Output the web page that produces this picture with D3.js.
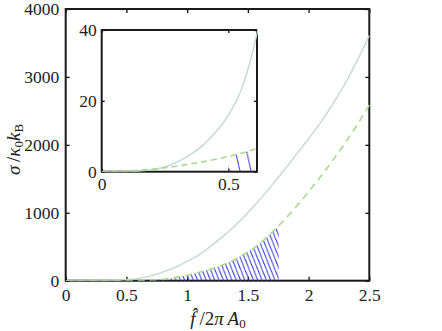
<!DOCTYPE html>
<html>
<head>
<meta charset="utf-8">
<script src="https://cdn.jsdelivr.net/npm/d3@7"></script>
<style>
  body { margin: 0; background: #fff; }
  text { font-family: "Liberation Serif", "DejaVu Serif", serif; }
</style>
</head>
<body>
<div id="chart"></div>
<script>
// values
const fVals = [0, 0.05, 0.1, 0.15, 0.2, 0.25, 0.3, 0.35, 0.4, 0.45, 0.5, 0.55, 0.6, 0.65, 0.7,
  0.8, 0.9, 1.0, 1.1, 1.2, 1.3, 1.4, 1.5, 1.6, 1.7, 1.8, 1.9, 2.0, 2.1, 2.2, 2.3, 2.4, 2.5];
const sigmaSolid = [0, 0, 0.05, 0.2, 0.6, 1.4, 2.8, 4.8, 7.5, 11.2, 16, 23, 35, 52, 72,
  125, 195, 285, 385, 515, 660, 820, 1000, 1200, 1410, 1630, 1860, 2090, 2330, 2600, 2900, 3240, 3610];
const sigmaDashed = [0, 0.1, 0.2, 0.4, 0.7, 1.1, 1.6, 2.2, 2.8, 3.5, 4.3, 5.2, 6.3, 7.8, 10,
  20, 45, 80, 125, 175, 240, 320, 425, 550, 715, 895, 1095, 1310, 1535, 1775, 2025, 2295, 2585];
const hatchFrom = 0.5, hatchTo = 1.755;

const mainXTicks = [0, 0.5, 1, 1.5, 2, 2.5];
const mainYTicks = [0, 1000, 2000, 3000, 4000];
const insetXTicks = [0, 0.5];
const insetYTicks = [0, 20, 40];

const W = 442, H = 331;
const solidColor = "#c4d9d3", dashColor = "#a9d990", hatchColor = "#3c3cd6";

const svg = d3.select("#chart").append("svg")
  .attr("width", W).attr("height", H);
const defs = svg.append("defs");

// hatch patterns ("\" lines), one per axes
function hatch(id, w, h) {
  const p = defs.append("pattern").attr("id", id)
    .attr("patternUnits", "userSpaceOnUse")
    .attr("width", w).attr("height", h);
  [-1, 0, 1].forEach(k => {
    p.append("line")
      .attr("x1", k * w).attr("y1", 0)
      .attr("x2", k * w + w).attr("y2", h)
      .attr("stroke", hatchColor).attr("stroke-width", 1);
  });
}
hatch("hatchMain", 4.3, 10.8);
hatch("hatchInset", 11.2, 50);

function panel(id, box, xDom, yDom, xTicks, yTicks, o) {
  const x = d3.scaleLinear().domain(xDom).range([box.x0, box.x1]);
  const y = d3.scaleLinear().domain(yDom).range([box.y1, box.y0]);
  const g = svg.append("g");

  if (o.bg) {
    g.append("rect").attr("x", box.x0).attr("y", box.y0)
      .attr("width", box.x1 - box.x0).attr("height", box.y1 - box.y0)
      .attr("fill", "#fff");
  }

  const fmt = d => String(d);
  const axes = [
    [d3.axisBottom(x).tickValues(xTicks).tickFormat(fmt).tickPadding(o.xPad), `translate(0,${box.y1})`],
    [d3.axisTop(x).tickValues(xTicks).tickFormat(""), `translate(0,${box.y0})`],
    [d3.axisLeft(y).tickValues(yTicks).tickFormat(fmt).tickPadding(o.yPad), `translate(${box.x0},0)`],
    [d3.axisRight(y).tickValues(yTicks).tickFormat(""), `translate(${box.x1},0)`]
  ];
  axes.forEach(([ax, tr]) => {
    const a = g.append("g").attr("transform", tr)
      .call(ax.tickSizeInner(-o.tick).tickSizeOuter(0));
    a.select(".domain").remove();
    a.selectAll(".tick line").attr("stroke", "#111").attr("stroke-width", 1.3);
    a.selectAll("text").attr("font-size", 17.5).attr("fill", "#222")
      .attr("font-family", "Liberation Serif");
  });

  g.append("rect").attr("x", box.x0).attr("y", box.y0)
    .attr("width", box.x1 - box.x0).attr("height", box.y1 - box.y0)
    .attr("fill", "none").attr("stroke", "#1a1a1a").attr("stroke-width", 2);

  defs.append("clipPath").attr("id", id + "Clip").append("rect")
    .attr("x", box.x0).attr("y", box.y0 - 1)
    .attr("width", box.x1 - box.x0 + 1).attr("height", box.y1 - box.y0 + 1);
  defs.append("clipPath").attr("id", id + "Hatch").append("rect")
    .attr("x", x(hatchFrom)).attr("y", box.y0)
    .attr("width", Math.min(x(hatchTo), box.x1) - x(hatchFrom))
    .attr("height", box.y1 - box.y0);

  const pts = fVals.map((f, i) => ({ f, s: sigmaSolid[i], d: sigmaDashed[i] }));
  const plot = g.append("g").attr("clip-path", `url(#${id}Clip)`);

  plot.append("path").datum(pts)
    .attr("clip-path", `url(#${id}Hatch)`)
    .attr("fill", `url(#${o.hatch})`)
    .attr("d", d3.area().curve(d3.curveMonotoneX)
      .x(p => x(p.f)).y0(y(0)).y1(p => y(p.d)));

  plot.append("path").datum(pts)
    .attr("fill", "none").attr("stroke", solidColor).attr("stroke-width", 1.4)
    .attr("d", d3.line().curve(d3.curveMonotoneX).x(p => x(p.f)).y(p => y(p.s)));

  plot.append("path").datum(pts)
    .attr("fill", "none").attr("stroke", dashColor).attr("stroke-width", 1.6)
    .attr("stroke-dasharray", o.dash)
    .attr("d", d3.line().curve(d3.curveMonotoneX).x(p => x(p.f)).y(p => y(p.d)));
}

panel("main", { x0: 65.7, x1: 369.3, y0: 9, y1: 280.7 }, [0, 2.5], [0, 4000],
  mainXTicks, mainYTicks, { tick: 4, xPad: 8, yPad: 6.4, hatch: "hatchMain", dash: "7,5" });
panel("inset", { x0: 101.7, x1: 257, y0: 30, y1: 171.7 }, [0, 0.613], [0, 40],
  insetXTicks, insetYTicks, { tick: 3, xPad: 6, yPad: 5, hatch: "hatchInset", dash: "6,4", bg: true });

// axis titles
const xt = svg.append("text").attr("x", 218).attr("y", 325)
  .attr("text-anchor", "middle").attr("font-size", 19).attr("fill", "#222");
xt.append("tspan").attr("font-style", "italic").text("f\u0302");
xt.append("tspan").text("\u2009/2");
xt.append("tspan").attr("font-style", "italic").text("\u03c0\u2009A");
xt.append("tspan").attr("font-size", 13).attr("dy", 2.5).text("0");

const yt = svg.append("text").attr("transform", "translate(19.5,149.5) rotate(-90)")
  .attr("text-anchor", "middle").attr("font-size", 19).attr("fill", "#222");
yt.append("tspan").attr("font-style", "italic").text("\u03c3");
yt.append("tspan").text("\u2009/");
yt.append("tspan").attr("font-style", "italic").text("\u03ba");
yt.append("tspan").attr("font-size", 13).attr("dy", 3).text("0");
yt.append("tspan").attr("font-style", "italic").attr("dy", -3).text("k");
yt.append("tspan").attr("font-size", 13).attr("dy", 3).text("B");
</script>
</body>
</html>
